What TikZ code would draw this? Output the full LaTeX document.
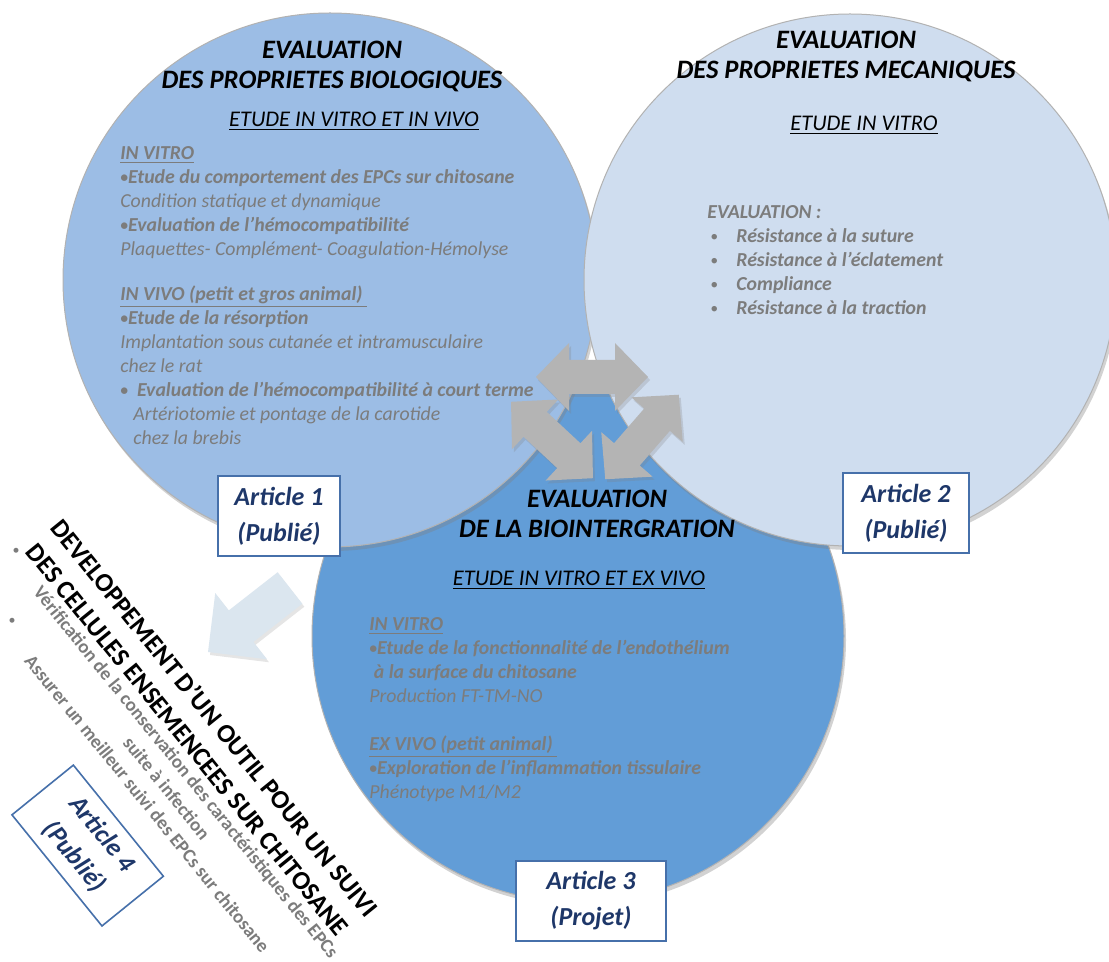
\documentclass[tikz,border=0pt]{standalone}
\usepackage{fontspec}
\usepackage{graphicx}
\setmainfont{Carlito}
\usetikzlibrary{shadows}

\definecolor{bioblue}{RGB}{156,189,229}
\definecolor{mecablue}{RGB}{207,221,239}
\definecolor{intblue}{RGB}{98,157,215}
\definecolor{txtgrey}{RGB}{124,124,124}
\definecolor{artline}{RGB}{70,112,170}
\definecolor{arttext}{RGB}{30,55,105}
\definecolor{swapgrey}{RGB}{180,180,180}
\definecolor{hintblue}{RGB}{219,230,239}

\newcommand{\smallbullet}{\raisebox{0.12ex}{\scalebox{0.78}{\textbullet}}}

\tikzset{
  bubble/.style={circle, draw=gray!60, line width=0.5pt, inner sep=0pt,
    drop shadow={opacity=0.35, shadow xshift=1pt, shadow yshift=-2pt}},
  bigtitle/.style={font=\fontsize{13.3}{15}\selectfont\bfseries\itshape, align=center, inner sep=0pt, anchor=north},
  subtitle/.style={font=\fontsize{11.2}{12}\selectfont\itshape, inner sep=0pt, anchor=north},
  body/.style={font=\fontsize{9.9}{12}\selectfont\itshape, text=txtgrey, align=left, inner sep=0pt, anchor=north west},
  article/.style={draw=artline, line width=0.8pt, fill=white, text=arttext,
    font=\fontsize{13}{18}\selectfont\bfseries\itshape, align=center,
    minimum width=61pt, minimum height=40pt, inner sep=0pt},
  swap/.style={fill=swapgrey, drop shadow={opacity=0.25, shadow xshift=1pt, shadow yshift=-1.5pt}},
}

\begin{document}
\begin{tikzpicture}[x=0.5pt, y=-0.5pt]
  \fill[white] (0,0) rectangle (1109,962);
  \useasboundingbox (0,0) rectangle (1109,962);

  % cercles
  \node[bubble, fill=intblue, minimum size=266pt] (integ) at (578,636) {};
  \node[bubble, fill=bioblue, minimum size=267pt] (bio) at (330,280) {};
  \node[bubble, fill=mecablue, minimum size=266pt] (meca) at (850,280) {};

  % titres
  \node[bigtitle] (biotitle) at (332,41) {EVALUATION\\DES PROPRIETES BIOLOGIQUES};
  \node[subtitle] (biosub) at (354,112) {\underline{ETUDE IN VITRO ET IN VIVO}};
  \node[bigtitle] (mecatitle) at (846,31) {EVALUATION\\DES PROPRIETES MECANIQUES};
  \node[subtitle] (mecasub) at (864,116) {\underline{ETUDE IN VITRO}};
  \node[bigtitle] (integtitle) at (597,490) {EVALUATION\\DE LA BIOINTERGRATION};
  \node[subtitle] (integsub) at (579,571) {\underline{ETUDE IN VITRO ET EX VIVO}};

  % textes
  \node[body] (biotxt) at (120,146) {\underline{\textbf{IN VITRO}}\\
    \textbf{\smallbullet Etude du comportement des EPCs sur chitosane}\\
    Condition statique et dynamique\\
    \textbf{\smallbullet Evaluation de l’hémocompatibilité}\\
    Plaquettes- Complément- Coagulation-Hémolyse\\[10.5pt]
    \underline{\textbf{IN VIVO (petit et gros animal)\ }}\\
    \textbf{\smallbullet Etude de la résorption}\\
    Implantation sous cutanée et intramusculaire\\
    chez le rat\\
    \textbf{\smallbullet\ \ Evaluation de l’hémocompatibilité à court terme}\\
    \hspace*{6.5pt}Artériotomie et pontage de la carotide\\
    \hspace*{6.5pt}chez la brebis};
  \node[body] (mecatxt) at (707,205) {\textbf{EVALUATION :}\\
    \hspace*{1.5pt}\makebox[13pt][l]{\smallbullet}\textbf{Résistance à la suture}\\
    \hspace*{1.5pt}\makebox[13pt][l]{\smallbullet}\textbf{Résistance à l’éclatement}\\
    \hspace*{1.5pt}\makebox[13pt][l]{\smallbullet}\textbf{Compliance}\\
    \hspace*{1.5pt}\makebox[13pt][l]{\smallbullet}\textbf{Résistance à la traction}};
  \node[body] (integtxt) at (369,617) {\underline{\textbf{IN VITRO}}\\
    \textbf{\smallbullet Etude de la fonctionnalité de l’endothélium}\\
    \textbf{\ à la surface du chitosane}\\
    Production FT-TM-NO\\[12pt]
    \underline{\textbf{EX VIVO (petit animal)\ }}\\
    \textbf{\smallbullet Exploration de l’inflammation tissulaire}\\
    Phénotype M1/M2};

  % fleches d'echange
  \foreach \cx/\cy/\ang in {592/377/0, 552/440/-43, 642/437/49}
    \path[swap, shift={(\cx,\cy)}, rotate=\ang] (-56,0) -- (-23,-34) -- (-23,-17) -- (23,-17)
      -- (23,-34) -- (56,0) -- (23,34) -- (23,17) -- (-23,17) -- (-23,34) -- cycle;

  % articles
  \node[article] (art1) at (279,516) {Article 1\\(Publié)};
  \node[article, minimum width=63pt] (art2) at (906,513) {Article 2\\(Publié)};
  \node[article, minimum width=75pt] (art3) at (591,901) {Article 3\\(Projet)};

  % fleche vers l'outil
  \path[fill=hintblue, drop shadow={opacity=0.2, shadow xshift=1pt, shadow yshift=-1.5pt},
    shift={(249,620)}, rotate=218] (-52,-20) -- (10,-20) -- (10,-42) -- (52,0)
    -- (10,42) -- (10,20) -- (-52,20) -- cycle;

  % bloc incline
  \begin{scope}[shift={(64,516)}, rotate=-51, transform shape]
    \node[font=\fontsize{13.1}{17}\selectfont\bfseries, align=center, inner sep=0pt, anchor=north west]
      (outil) at (0,0) {DEVELOPPEMENT D’UN OUTIL POUR UN SUIVI\\DES CELLULES ENSEMENCEES SUR CHITOSANE};
    \node[font=\fontsize{9.5}{12.5}\selectfont\bfseries, text=txtgrey, align=center, inner sep=0pt, anchor=north]
      (outiltxt) at (276,59) {Vérification de la conservation des caractéristiques des EPCs\\
      suite à infection\\Assurer un meilleur suivi des EPCs sur chitosane};
    \node[font=\fontsize{7}{7}\selectfont, text=txtgrey, inner sep=0pt] (dot1) at (-3,60) {\textbullet};
    \node[font=\fontsize{7}{7}\selectfont, text=txtgrey, inner sep=0pt] (dot2) at (49,107) {\textbullet};
    \node[article, minimum width=71.5pt, minimum height=39.5pt] (art4) at (271,189) {Article 4\\(Publié)};
  \end{scope}
\end{tikzpicture}
\end{document}
